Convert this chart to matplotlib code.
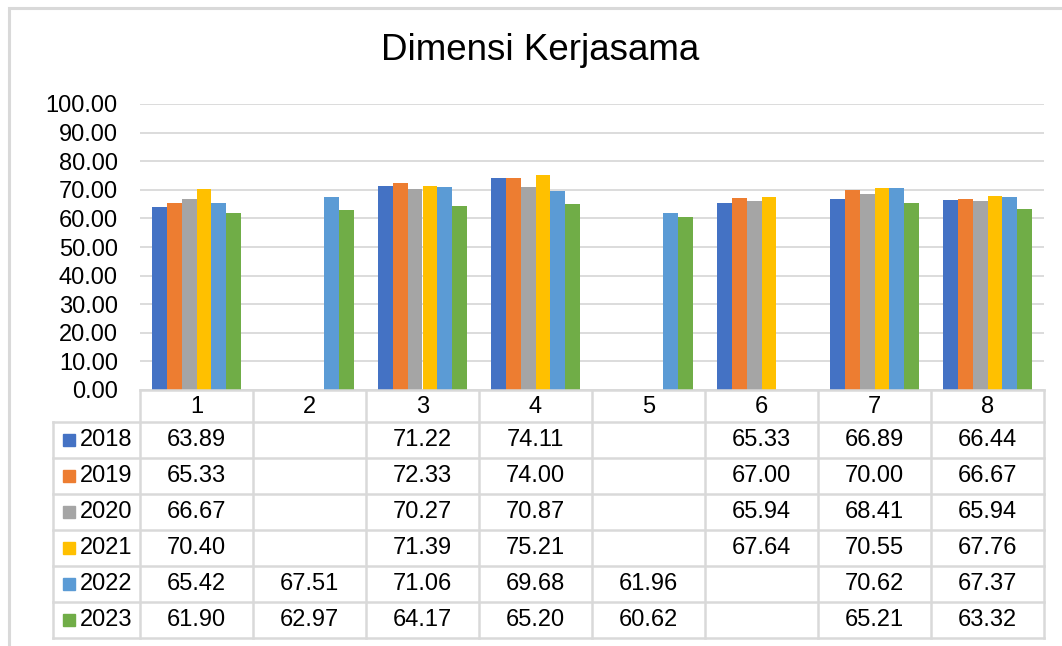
import numpy as np
import matplotlib.pyplot as plt
from matplotlib.patches import Rectangle
from matplotlib.lines import Line2D
from matplotlib.transforms import blended_transform_factory

plt.rcParams['font.family'] = ['Liberation Sans', 'DejaVu Sans']

# data
categories = ['1', '2', '3', '4', '5', '6', '7', '8']
years = ['2018', '2019', '2020', '2021', '2022', '2023']
v2018 = [63.89, np.nan, 71.22, 74.11, np.nan, 65.33, 66.89, 66.44]
v2019 = [65.33, np.nan, 72.33, 74.00, np.nan, 67.00, 70.00, 66.67]
v2020 = [66.67, np.nan, 70.27, 70.87, np.nan, 65.94, 68.41, 65.94]
v2021 = [70.40, np.nan, 71.39, 75.21, np.nan, 67.64, 70.55, 67.76]
v2022 = [65.42, 67.51, 71.06, 69.68, 61.96, np.nan, 70.62, 67.37]
v2023 = [61.90, 62.97, 64.17, 65.20, 60.62, np.nan, 65.21, 63.32]
series = [v2018, v2019, v2020, v2021, v2022, v2023]
colors = ['#4472C4', '#ED7D31', '#A5A5A5', '#FFC000', '#5B9BD5', '#70AD47']

W, H = 1062, 646
fig = plt.figure(figsize=(W / 100, H / 100), dpi=100)

def fy(py):
    return 1 - py / H

def fx(px):
    return px / W

# plot area in pixels
left, right, top, bottom = 140, 1044, 104, 390
ax = fig.add_axes([fx(left), fy(bottom), fx(right) - fx(left), fy(top) - fy(bottom)])

x = np.arange(len(categories))
bw = 0.132
for i, (vals, c) in enumerate(zip(series, colors)):
    ax.bar(x + (i - 2.5) * bw, np.nan_to_num(vals), width=bw, color=c, zorder=3)

ax.set_xlim(-0.5, len(categories) - 0.5)
ax.set_ylim(0, 100)
ax.set_yticks(np.arange(0, 101, 10))
ax.set_yticklabels([f'{t:.2f}' for t in np.arange(0, 101, 10)], fontsize=17)
ax.tick_params(axis='y', length=0, pad=16)
ax.set_xticks([])
ax.grid(axis='y', color='#D9D9D9', linewidth=1.3, zorder=0)
for s in ax.spines.values():
    s.set_visible(False)

fig.text(fx(540), fy(50), 'Dimensi Kerjasama', ha='center', va='center', fontsize=26.5)

# data table below the plot
tr = blended_transform_factory(ax.transData, fig.transFigure)
grid_c = '#D9D9D9'
lw = 1.8
rows_y = [390, 422, 458, 494, 530, 566, 602, 638]
leg_left = -0.5 - (left - 53) / ((right - left) / len(categories))

# horizontal lines
fig.add_artist(Line2D([-0.5, 7.5], [fy(rows_y[0])] * 2, transform=tr, color=grid_c, lw=lw))
for yy in rows_y[1:]:
    fig.add_artist(Line2D([leg_left, 7.5], [fy(yy)] * 2, transform=tr, color=grid_c, lw=lw))
# vertical lines
for xb in np.arange(-0.5, 8.0, 1.0):
    fig.add_artist(Line2D([xb, xb], [fy(rows_y[0]), fy(rows_y[-1])], transform=tr, color=grid_c, lw=lw))
fig.add_artist(Line2D([leg_left, leg_left], [fy(rows_y[1]), fy(rows_y[-1])], transform=tr, color=grid_c, lw=lw))

# header
for xi, cat in zip(x, categories):
    fig.text(xi, fy((rows_y[0] + rows_y[1]) / 2 + 1), cat, transform=tr, ha='center', va='center', fontsize=17)

# rows
for r, (yr, vals, c) in enumerate(zip(years, series, colors)):
    yc = fy((rows_y[r + 1] + rows_y[r + 2]) / 2)
    fig.add_artist(Rectangle((fx(63), yc - 6 / H), 12 / W, 12 / H, transform=fig.transFigure, color=c))
    fig.text(fx(80), yc, yr, ha='left', va='center', fontsize=17)
    for xi, v in zip(x, vals):
        if not np.isnan(v):
            fig.text(xi, yc, f'{v:.2f}', transform=tr, ha='center', va='center', fontsize=17)

# outer chart frame (cut off on right and bottom)
fig.add_artist(Rectangle((fx(9), fy(700)), fx(1100) - fx(9), fy(8) - fy(700),
                         transform=fig.transFigure, fill=False, edgecolor=grid_c, lw=2.2))

fig.savefig('out.png', dpi=100)
